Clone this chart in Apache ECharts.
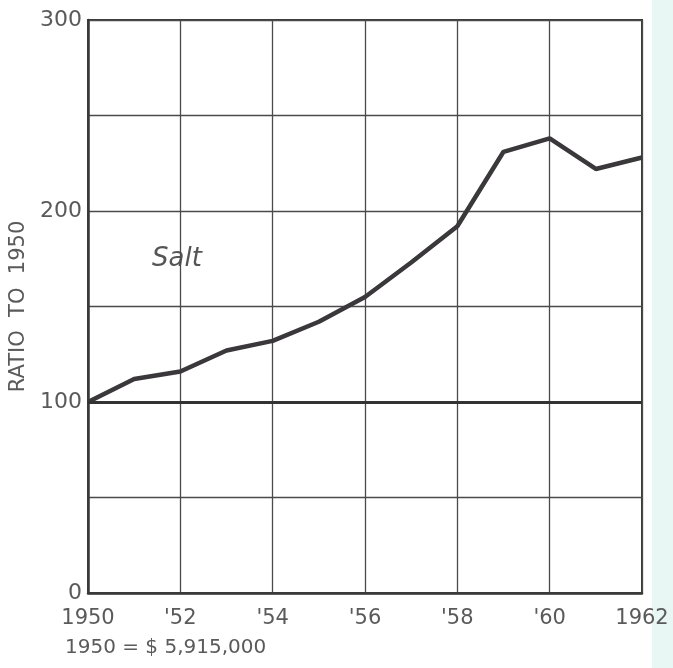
<!DOCTYPE html>
<html>
<head>
<meta charset="utf-8">
<script src="https://cdn.jsdelivr.net/npm/echarts@6/dist/echarts.min.js"></script>
<style>
html,body{margin:0;padding:0;background:#fff;}
#chart{width:673px;height:668px;}
</style>
</head>
<body>
<div id="chart"></div>
<script>
const years = [1950,1951,1952,1953,1954,1955,1956,1957,1958,1959,1960,1961,1962];
const saltRatio = [100,112,116,127,132,142,155,173,192,231,238,222,228];
const yTickLabels = ['0','100','200','300'];
const seriesName = 'Salt';
const yAxisTitle = 'RATIO  TO  1950';
const footnote = '1950 = $ 5,915,000';
const baseline = 100;

const font = 'DejaVu Sans';
const chart = echarts.init(document.getElementById('chart'), null, {renderer:'canvas'});
chart.setOption({
  backgroundColor: '#ffffff',
  animation: false,
  grid: {left: 88, right: 31, top: 20, bottom: 75, show: true, borderColor: '#3a3a3a', borderWidth: 2, backgroundColor: 'transparent'},
  xAxis: {
    type: 'value', min: 1950, max: 1962, interval: 2,
    axisLine: {show: true, lineStyle: {color: '#3a3a3a', width: 2.5}},
    axisTick: {show: false},
    splitLine: {show: true, lineStyle: {color: '#4a4a4a', width: 1.3}},
    axisLabel: {
      margin: 15, color: '#5a5a5a', fontFamily: font, fontSize: 21,
      formatter: v => (v === 1950 || v === 1962) ? String(v) : "'" + String(v).slice(2)
    }
  },
  yAxis: {
    type: 'value', min: 0, max: 300, interval: 50,
    name: yAxisTitle, nameLocation: 'middle', nameGap: 59,
    nameTextStyle: {color: '#5a5a5a', fontFamily: font, fontSize: 21},
    axisLine: {show: true, lineStyle: {color: '#3a3a3a', width: 2.5}},
    axisTick: {show: false},
    splitLine: {show: true, lineStyle: {color: '#4a4a4a', width: 1.3}},
    axisLabel: {
      margin: 6, color: '#5a5a5a', fontFamily: font, fontSize: 22,
      formatter: v => yTickLabels.includes(String(v)) ? String(v) : ''
    }
  },
  graphic: [
    {type: 'rect', right: 0, top: 0, shape: {width: 21, height: 668}, style: {fill: '#e8f7f4'}, z: -10},
    {type: 'text', left: 152, top: 246, style: {text: seriesName, font: 'italic 26px "DejaVu Sans"', fill: '#555'}},
    {type: 'text', left: 65, top: 638, style: {text: footnote, font: '20px "DejaVu Sans"', fill: '#5a5a5a'}}
  ],
  series: [{
    name: seriesName,
    type: 'line',
    data: years.map((y, i) => [y, saltRatio[i]]),
    symbol: 'none',
    lineStyle: {color: '#3a383a', width: 4.5},
    markLine: {
      silent: true, symbol: 'none', label: {show: false},
      lineStyle: {color: '#333', width: 3, type: 'solid'},
      data: [{yAxis: baseline}]
    }
  }]
});
</script>
</body>
</html>
